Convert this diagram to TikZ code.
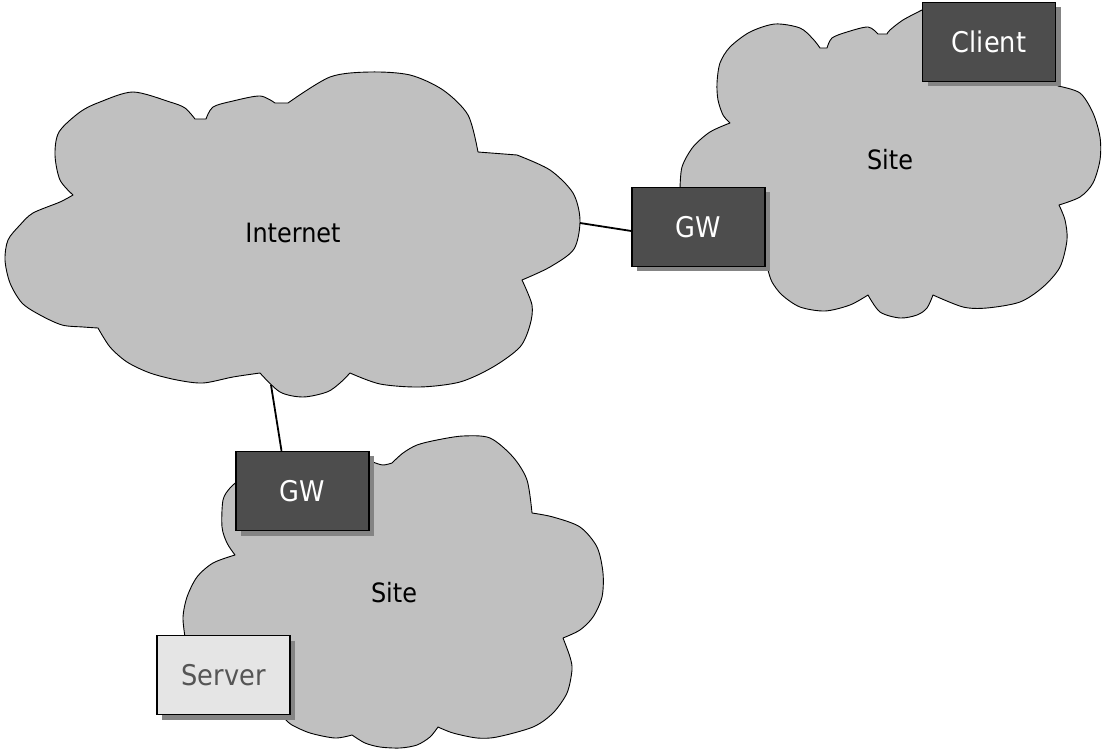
\documentclass[tikz,border=0pt]{standalone}
\usepackage{fontspec}
\newfontfamily\labfont[FakeStretch=0.9]{DejaVu Sans}
\usetikzlibrary{shadows}
\definecolor{cloudgray}{RGB}{192,192,192}
\definecolor{boxdark}{RGB}{77,77,77}
\definecolor{boxlight}{RGB}{229,229,229}
\definecolor{shadowgray}{RGB}{132,132,132}
\definecolor{servertext}{RGB}{85,85,85}
\begin{document}
\begin{tikzpicture}[x=1pt,y=-1pt,
  cloud/.style={fill=cloudgray,draw=black,line width=0.9pt,line join=round},
  cloudlabel/.style={font=\labfont\fontsize{26.6}{30}\selectfont,text=black,anchor=base,inner sep=0pt},
  box/.style={draw=black,line width=1.4pt,minimum width=133pt,minimum height=79pt,inner sep=0pt,
    font=\labfont\fontsize{28.5}{32}\selectfont,
    drop shadow={shadow xshift=5pt,shadow yshift=-5pt,fill=shadowgray,opacity=1}},
  darkbox/.style={box,fill=boxdark,text=white},
  lightbox/.style={box,fill=boxlight,text=servertext},
  link/.style={draw=black,line width=1.8pt}]
\useasboundingbox[fill=white] (0,0) rectangle (1104,751);

% Internet cloud
\draw[cloud]
  plot[smooth] coordinates {(73,195) (60,180) (55,155) (59,132) (80,112) (100,102) (133,92) (170,102) (185,108) (195,119)}
  -- (206,119)
  -- plot[smooth] coordinates {(206,119) (213,107) (233,101) (260,96) (275,103)}
  -- (288,103)
  -- plot[smooth] coordinates {(288,103) (330,77) (370,72) (410,75) (443,90) (468,115) (478,152)}
  -- (517,155)
  -- plot[smooth] coordinates {(517,155) (550,170) (573,193) (580,220) (574,249) (550,267) (522,280)}
  -- plot[smooth] coordinates {(522,280) (532,305) (530,325) (520,347) (493,367) (460,382) (420,387) (380,384) (350,373)}
  -- plot[smooth] coordinates {(350,373) (340,383) (327,392) (303,397) (280,392) (260,373)}
  -- plot[smooth] coordinates {(260,373) (233,377) (203,383) (177,380) (150,373) (127,362) (110,347) (98,328)}
  -- plot[smooth] coordinates {(98,328) (83,327) (62,325) (40,315) (22,303) (10,283) (5,260) (8,240) (20,225) (33,213) (60,202) (73,195)}
  -- cycle;

% right Site cloud
\draw[cloud]
  plot[smooth] coordinates {(680,190) (682,167) (693,147) (710,132) (730,123)}
  -- plot[smooth] coordinates {(730,123) (723,115) (718,100) (717,83) (720,63) (730,47) (750,32) (775,24) (800,28) (813,39) (820,48)}
  -- (827,48)
  -- plot[smooth] coordinates {(827,48) (832,38) (847,32) (868,27) (878,34)}
  -- (887,34)
  -- plot[smooth] coordinates {(887,34) (890,30) (903,20) (922,10)}
  -- (1050,20) -- (1058,86)
  -- plot[smooth] coordinates {(1058,86) (1080,93) (1093,113) (1100,137) (1100,160) (1093,183) (1080,197) (1059,205)}
  -- plot[smooth] coordinates {(1059,205) (1065,220) (1067,240) (1060,267) (1043,287) (1020,302) (987,308) (963,307) (933,295)}
  -- plot[smooth] coordinates {(933,295) (927,308) (917,315) (900,318) (880,312) (868,295)}
  -- plot[smooth] coordinates {(868,295) (850,305) (825,311) (800,307) (782,295) (772,282) (768,270)}
  -- cycle;

% bottom Site cloud
\draw[cloud]
  plot[smooth] coordinates {(368,458) (373,462) (383,465) (392,463)}
  -- plot[smooth] coordinates {(392,463) (403,453) (417,445) (437,440) (463,436) (490,438) (513,457) (527,480) (532,513)}
  -- plot[smooth] coordinates {(532,513) (553,517) (580,527) (597,547) (603,573) (602,597) (593,617) (580,630) (563,638)}
  -- plot[smooth] coordinates {(563,638) (570,657) (572,670) (567,693) (553,713) (533,727) (497,737) (477,738) (453,733) (438,727)}
  -- plot[smooth] coordinates {(438,727) (430,737) (417,745) (400,748) (380,747) (365,743) (352,735)}
  -- plot[smooth] coordinates {(352,735) (335,738) (310,733) (292,725) (285,719)}
  -- (185,637)
  -- plot[smooth] coordinates {(185,637) (183,617) (187,597) (197,577) (213,563) (235,555)}
  -- plot[smooth] coordinates {(235,555) (227,543) (222,527) (223,500) (230,488) (239,480)}
  -- cycle;

% labels
\node[cloudlabel] (internet) at (293,243) {Internet};
\node[cloudlabel] (site1) at (890,170) {Site};
\node[cloudlabel] (site2) at (394,602) {Site};

% connection points on the Internet cloud
\coordinate (inetE) at (580,223);
\coordinate (inetS) at (271,385);

% boxes
\node[darkbox] (client) at (989,42) {Client};
\node[darkbox] (gw1) at (698.5,227) {GW};
\node[darkbox] (gw2) at (302.5,491) {GW};
\node[lightbox] (server) at (223.5,675) {Server};

% connectors
\draw[link] (inetE) -- ([yshift=-4pt]gw1.west);
\draw[link] (inetS) -- ([xshift=-21pt]gw2.north);
\end{tikzpicture}
\end{document}
